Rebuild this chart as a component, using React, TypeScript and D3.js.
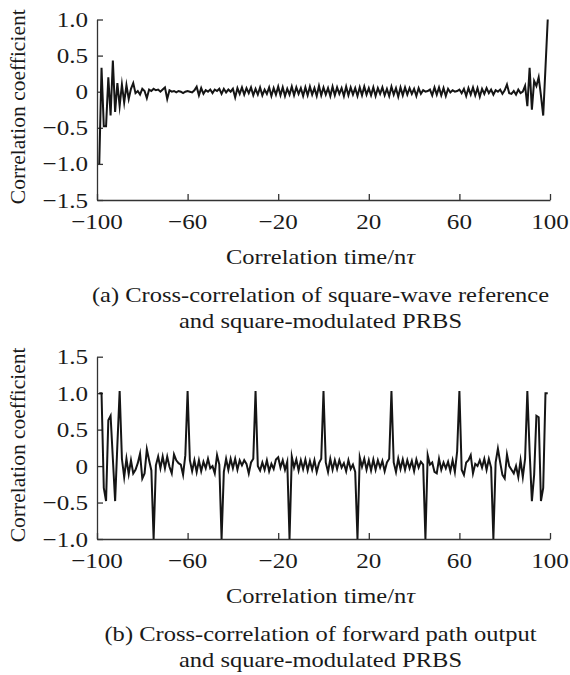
import {useEffect, useRef} from 'react';
import * as d3 from 'd3';

// lag axis, in units of n·tau
const lags = d3.range(-99, 100);
const xTicks = [-100, -60, -20, 20, 60, 100];
const yTicksA = [-1.5, -1.0, -0.5, 0, 0.5, 1.0];
const yTicksB = [-1.0, -0.5, 0, 0.5, 1.0, 1.5];

// (a) square-wave reference vs square-modulated PRBS
const rhoA = [
    -1.0, 0.33, -0.48, -0.48, 0.2, -0.33, 0.43, -0.28, 0.12, -0.2,
    0.1, -0.15, 0.09, -0.1, 0.04, 0.12, -0.02, 0.01, -0.04, 0.04,
    0.01, -0.09, 0.03, 0.01, 0.04, 0.02, 0.03, 0.0, 0.03, 0.06,
    -0.1, 0.02, 0.0, 0.01, -0.01, 0.01, 0.0, -0.02, 0.0, 0.01,
    0.0, -0.01, 0.02, 0.07, -0.05, 0.05, -0.03, 0.02, 0.0, 0.03,
    -0.02, 0.03, 0.01, 0.04, -0.03, 0.04, -0.01, 0.03, 0.0, 0.04,
    -0.08, 0.05, -0.03, 0.06, -0.04, 0.05, -0.02, 0.06, -0.05, 0.04,
    -0.04, 0.06, -0.05, 0.03, -0.03, 0.06, -0.06, 0.05, -0.04, 0.07,
    -0.05, 0.06, -0.06, 0.04, -0.04, 0.07, -0.05, 0.06, -0.03, 0.05,
    -0.06, 0.06, -0.05, 0.07, -0.04, 0.05, -0.06, 0.08, -0.05, 0.06,
    -0.04, 0.05, -0.06, 0.07, -0.05, 0.06, -0.03, 0.05, -0.06, 0.07,
    -0.05, 0.06, -0.04, 0.05, -0.06, 0.06, -0.05, 0.07, -0.04, 0.05,
    -0.05, 0.06, -0.06, 0.05, -0.03, 0.06, -0.05, 0.04, -0.06, 0.07,
    -0.04, 0.05, -0.07, 0.06, -0.05, 0.06, -0.04, 0.05, -0.03, 0.04,
    -0.06, 0.05, -0.03, 0.02, 0.0, 0.01, 0.03, -0.05, 0.06, -0.04,
    0.06, -0.05, 0.05, -0.06, 0.04, -0.01, 0.02, 0.0, 0.01, 0.03,
    -0.02, 0.04, -0.06, 0.05, -0.04, 0.06, -0.05, 0.05, -0.07, 0.04,
    -0.03, 0.05, -0.02, 0.03, -0.04, 0.02, 0.0, 0.03, -0.03, 0.02,
    0.1, -0.02, -0.03, 0.01, -0.04, 0.03, -0.02, 0.0, 0.08, -0.2,
    0.33, -0.25, 0.15, 0.08, 0.2, -0.05, -0.33, 0.33, 1.0,
];

// (b) forward path output vs square-modulated PRBS
const rhoB = [
    1.0, 1.0, -0.3, -0.48, 0.63, 0.69, 0.1, -0.48, 0.3, 1.03,
    0.1, -0.15, 0.1, -0.11, 0.08, -0.1, -0.05, 0.04, 0.17, -0.17,
    -0.1, 0.23, 0.08, -0.06, -1.0, 0.01, 0.13, -0.03, 0.13, -0.03,
    0.13, -0.01, -0.1, 0.16, 0.08, 0.04, 0.02, -0.12, 0.15, 1.03,
    0.08, -0.07, 0.08, -0.08, 0.08, -0.07, 0.06, -0.03, 0.1, -0.03,
    0.0, -0.1, 0.15, 0.02, -1.0, -0.08, 0.1, -0.05, 0.1, -0.03,
    0.1, -0.05, 0.08, 0.01, 0.08, 0.03, -0.1, 0.05, 0.1, 1.03,
    0.0, -0.06, 0.05, -0.05, 0.08, -0.07, 0.03, -0.04, 0.09, 0.12,
    -0.02, 0.08, -0.05, 0.06, -1.0, 0.13, -0.02, 0.09, -0.06, 0.08,
    -0.04, 0.09, -0.06, 0.07, -0.05, 0.08, -0.08, 0.04, 0.1, 1.03,
    0.05, -0.08, 0.1, -0.05, 0.08, -0.04, 0.08, -0.02, 0.04, -0.07,
    0.08, -0.04, 0.02, -0.08, -1.0, 0.12, -0.01, 0.1, -0.05, 0.08,
    -0.06, 0.09, -0.05, 0.08, -0.02, 0.07, -0.07, 0.05, 0.1, 1.03,
    0.05, -0.08, 0.1, -0.04, 0.09, -0.05, 0.08, -0.03, 0.07, -0.07,
    0.09, -0.02, 0.06, 0.02, -1.0, 0.15, 0.02, 0.05, -0.08, -0.1,
    0.1, -0.05, 0.05, -0.03, 0.06, -0.07, 0.08, -0.08, 0.2, 1.03,
    -0.05, -0.12, 0.05, 0.08, 0.15, -0.1, 0.03, 0.0, 0.08, -0.02,
    0.1, -0.05, 0.1, -0.02, -1.0, 0.05, 0.24, 0.05, -0.12, -0.17,
    0.16, 0.0, -0.05, -0.1, 0.0, -0.15, 0.08, -0.15, 0.1, 1.03,
    0.2, -0.48, -0.12, 0.69, 0.67, -0.48, -0.3, 1.0, 1.0,
];

const xTitle = 'Correlation time/n';
const yTitle = 'Correlation coefficient';
const captionA = ['(a) Cross-correlation of square-wave reference', 'and square-modulated PRBS'];
const captionB = ['(b) Cross-correlation of forward path output', 'and square-modulated PRBS'];

const FONT = '"Liberation Serif", "Times New Roman", serif';
const SX = 1.14; // the source typesetting is a bit wide

export default function App() {
    const ref = useRef(null);

    useEffect(() => {
        const width = 570;
        const height = 675;
        const svg = d3.select(ref.current);
        svg.selectAll('*').remove();
        svg.attr('viewBox', `0 0 ${width} ${height}`);

        const left = 97;
        const right = 550;
        const x = d3.scaleLinear().domain([-100, 100]).range([left, right]);

        const fmtX = d3.format('d');
        const fmtY = (v) => (v === 0 ? '0' : d3.format('.1f')(v));

        const text = (g, tx, ty, str, anchor, size) =>
            g
                .append('text')
                .attr('transform', `translate(${tx},${ty}) scale(${SX},1)`)
                .attr('text-anchor', anchor)
                .attr('font-family', FONT)
                .attr('font-size', size)
                .attr('fill', '#1a1a1a')
                .text(str);

        const panel = (values, yDomain, yTicks, top, bottom, caption) => {
            const y = d3.scaleLinear().domain(yDomain).range([bottom, top]);
            const g = svg.append('g');

            const xAxis = g
                .append('g')
                .attr('transform', `translate(0,${bottom})`)
                .call(d3.axisBottom(x).tickValues(xTicks).tickSize(-6).tickSizeOuter(0).tickFormat(() => ''));
            const yAxis = g
                .append('g')
                .attr('transform', `translate(${left},0)`)
                .call(d3.axisLeft(y).tickValues(yTicks).tickSize(-6).tickSizeOuter(0).tickFormat(() => ''));
            [xAxis, yAxis].forEach((a) => {
                a.selectAll('path, line').attr('stroke', '#333').attr('stroke-width', 1.3);
            });

            const line = d3
                .line()
                .x((d, i) => x(lags[i]))
                .y((d) => y(d));
            g.append('path')
                .datum(values)
                .attr('d', line)
                .attr('fill', 'none')
                .attr('stroke', '#151515')
                .attr('stroke-width', 2)
                .attr('stroke-linejoin', 'miter')
                .attr('stroke-miterlimit', 10);

            xTicks.forEach((t) => text(g, x(t), bottom + 29, fmtX(t), 'middle', 22));
            yTicks.forEach((t) => text(g, left - 9, y(t) + 7.5, fmtY(t), 'end', 22));

            const cx = (left + right) / 2 - 3;
            const xt = text(g, cx, bottom + 64, xTitle, 'middle', 21.5);
            xt.append('tspan').attr('font-style', 'italic').text('\u03c4');
            text(g, cx, bottom + 102, caption[0], 'middle', 21.5);
            text(g, cx, bottom + 128, caption[1], 'middle', 21.5);

            g.append('text')
                .attr('transform', `translate(25,${(top + bottom) / 2 - 3}) rotate(-90)`)
                .attr('text-anchor', 'middle')
                .attr('font-family', FONT)
                .attr('font-size', 21.5)
                .attr('fill', '#1a1a1a')
                .text(yTitle);
        };

        panel(rhoA, [-1.5, 1.0], yTicksA, 19.5, 200, captionA);
        panel(rhoB, [-1.0, 1.5], yTicksB, 356.7, 539, captionB);
    }, []);

    return (
        <svg
            ref={ref}
            width={570}
            height={675}
            style={{position: 'absolute', left: 0, top: 0, background: '#fff'}}
        ></svg>
    );
}
